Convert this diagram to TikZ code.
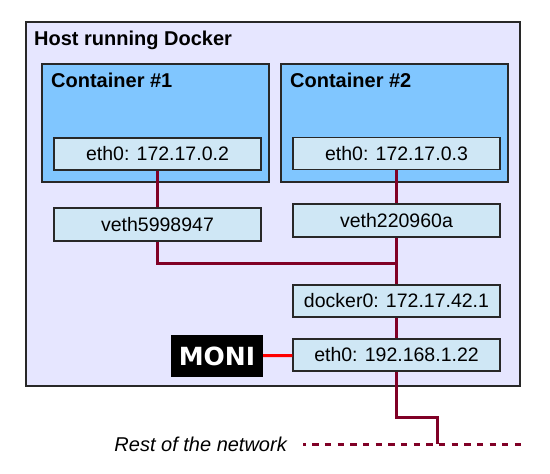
\documentclass[tikz,border=0pt]{standalone}
\usepackage{fontspec}
\setmainfont{Liberation Sans}
\newfontfamily\monifont{DejaVu Sans}
\definecolor{hostfill}{RGB}{230,230,255}
\definecolor{ctfill}{RGB}{128,198,255}
\definecolor{iffill}{RGB}{207,231,245}
\definecolor{linkred}{RGB}{128,0,38}
\definecolor{edge}{RGB}{40,40,40}
\tikzset{
  hostbox/.style={draw=edge, line width=1.3pt, fill=hostfill, inner sep=0pt},
  ctbox/.style={draw=edge, line width=1.3pt, fill=ctfill, minimum width=227, minimum height=118, inner sep=0pt},
  ifbox/.style={draw=edge, line width=1.3pt, fill=iffill, minimum width=207, minimum height=32, inner sep=0pt, font=\fontsize{19.5}{22}\selectfont},
  title/.style={anchor=base west, inner sep=0pt, font=\fontsize{20}{24}\selectfont\bfseries},
  link/.style={draw=linkred, line width=3pt},
  monilink/.style={draw=red, line width=3pt}
}
\begin{document}
\begin{tikzpicture}[x=1pt,y=-1pt]
\useasboundingbox (0,0) rectangle (550,474);
\node[hostbox, minimum width=494, minimum height=364] (host) at (273,204) {};
\node[title] (hosttitle) at (34,45) {Host running Docker};
\node[ctbox] (ct1) at (155.5,123) {};
\node[ctbox] (ct2) at (394.5,123) {};
\node[title] (ct1title) at (51,87) {Container \#1};
\node[title] (ct2title) at (290,87) {Container \#2};
\node[ifbox] (eth1) at (157.5,154) {eth0: 172.17.0.2};
\node[ifbox] (eth2) at (396.5,153.5) {eth0: 172.17.0.3};
\node[ifbox, minimum height=33] (veth1) at (157.5,224.5) {veth5998947};
\node[ifbox, minimum height=33] (veth2) at (396.5,220.5) {veth220960a};
\node[ifbox] (docker) at (396.5,301) {docker0: 172.17.42.1};
\node[ifbox] (eth) at (396.5,355) {eth0: 192.168.1.22};
\node[fill=black, text=white, minimum width=92, minimum height=42, inner sep=0pt,
  font=\monifont\fontsize{25}{28}\selectfont\bfseries] (moni) at (217,356) {MONI};
\node[anchor=base east, inner sep=0pt, font=\fontsize{20}{24}\selectfont\itshape]
  (rest) at (287,451) {Rest of the network};
\coordinate (join) at (396.5,263);
\coordinate (bend) at (437,417);
\coordinate (tap) at (437,444);
\coordinate (netstart) at (303,444);
\coordinate (netend) at (525,444);
% links
\draw[link] (eth1) -- (veth1);
\draw[link] (eth2) -- (veth2);
\draw[link] (veth1) |- (join);
\draw[link] (veth2) -- (docker);
\draw[link] (docker) -- (eth);
\draw[link] (eth) |- (bend) -- (tap);
\draw[link, dash pattern=on 6.33pt off 6.33pt, dash phase=3.4pt] (netstart) -- (netend);
\draw[monilink] (moni) -- (eth);
\end{tikzpicture}
\end{document}
